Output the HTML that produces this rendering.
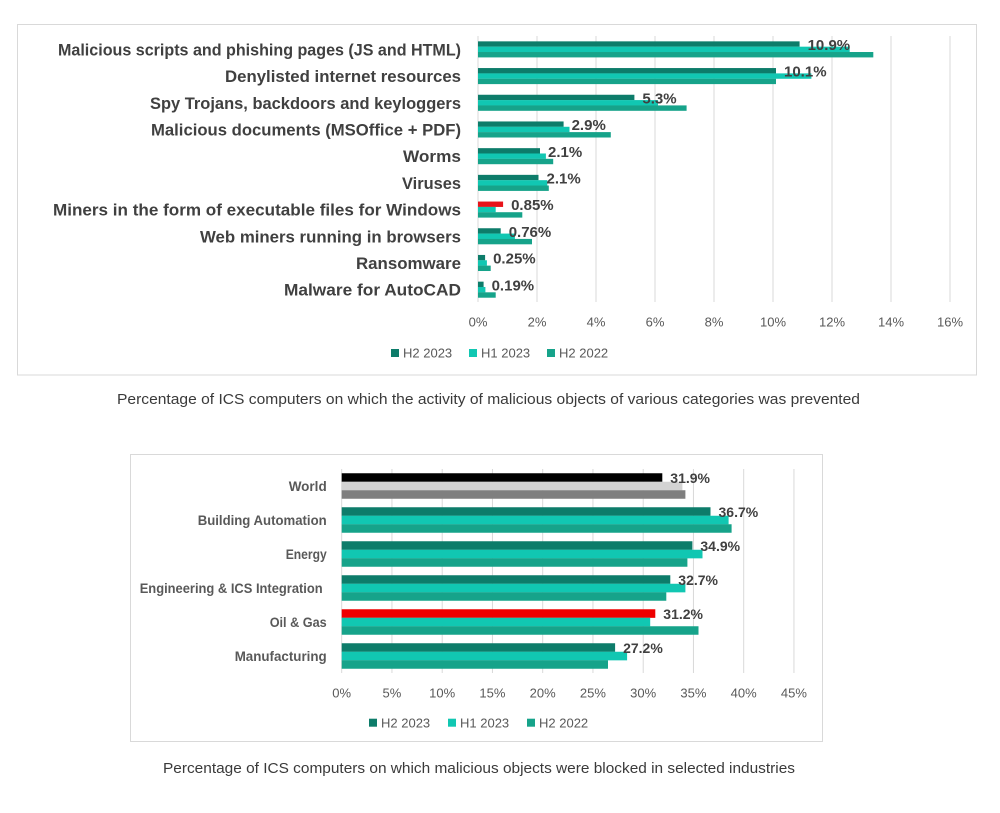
<!DOCTYPE html>
<html>
<head>
<meta charset="utf-8">
<style>
html,body{margin:0;padding:0;background:#fff;}
svg{display:block;}
text{font-family:"Liberation Sans",sans-serif;}
.lab{font-weight:bold;fill:#404040;font-size:16.5px;}
.blab{font-weight:bold;fill:#595959;font-size:14px;}
.tick{fill:#595959;font-size:13px;}
.dl{font-weight:bold;fill:#404040;font-size:15px;}
.bdl{font-weight:bold;fill:#404040;font-size:14px;}
.leg{fill:#595959;font-size:13px;}
.cap{fill:#3a3a3a;font-size:14.5px;}
</style>
</head>
<body>
<svg width="1000" height="813" viewBox="0 0 1000 813" xmlns="http://www.w3.org/2000/svg">
<rect width="1000" height="813" fill="#fff"/>

<!-- ===== TOP CHART ===== -->
<rect x="17.5" y="24.5" width="959" height="350.5" fill="#fff" stroke="#D9D9D9" stroke-width="1"/>
<g stroke="#D9D9D9" stroke-width="1">
<line x1="478" y1="36" x2="478" y2="302"/>
<line x1="537" y1="36" x2="537" y2="302"/>
<line x1="596" y1="36" x2="596" y2="302"/>
<line x1="655" y1="36" x2="655" y2="302"/>
<line x1="714" y1="36" x2="714" y2="302"/>
<line x1="773" y1="36" x2="773" y2="302"/>
<line x1="832" y1="36" x2="832" y2="302"/>
<line x1="891" y1="36" x2="891" y2="302"/>
<line x1="950" y1="36" x2="950" y2="302"/>
</g>

<!-- bars top -->
<g transform="translate(478,41.35)"><rect y="0" width="321.6" height="5.4" fill="#0D7C6A"/><rect y="5.33" width="371.7" height="5.4" fill="#11C7B2"/><rect y="10.66" width="395.3" height="5.4" fill="#16A38A"/></g>
<g transform="translate(478,68.05)"><rect y="0" width="298.0" height="5.4" fill="#0D7C6A"/><rect y="5.33" width="333.4" height="5.4" fill="#11C7B2"/><rect y="10.66" width="298.0" height="5.4" fill="#16A38A"/></g>
<g transform="translate(478,94.75)"><rect y="0" width="156.4" height="5.4" fill="#0D7C6A"/><rect y="5.33" width="180.0" height="5.4" fill="#11C7B2"/><rect y="10.66" width="208.6" height="5.4" fill="#16A38A"/></g>
<g transform="translate(478,121.45)"><rect y="0" width="85.6" height="5.4" fill="#0D7C6A"/><rect y="5.33" width="91.5" height="5.4" fill="#11C7B2"/><rect y="10.66" width="132.8" height="5.4" fill="#16A38A"/></g>
<g transform="translate(478,148.15)"><rect y="0" width="62.0" height="5.4" fill="#0D7C6A"/><rect y="5.33" width="67.9" height="5.4" fill="#11C7B2"/><rect y="10.66" width="75.2" height="5.4" fill="#16A38A"/></g>
<g transform="translate(478,174.85)"><rect y="0" width="60.5" height="5.4" fill="#0D7C6A"/><rect y="5.33" width="69.3" height="5.4" fill="#11C7B2"/><rect y="10.66" width="70.8" height="5.4" fill="#16A38A"/></g>
<g transform="translate(478,201.55)"><rect y="0" width="25.1" height="5.4" fill="#E8141B"/><rect y="5.33" width="17.7" height="5.4" fill="#11C7B2"/><rect y="10.66" width="44.3" height="5.4" fill="#16A38A"/></g>
<g transform="translate(478,228.25)"><rect y="0" width="22.7" height="5.4" fill="#0D7C6A"/><rect y="5.33" width="36.9" height="5.4" fill="#11C7B2"/><rect y="10.66" width="54.0" height="5.4" fill="#16A38A"/></g>
<g transform="translate(478,254.95)"><rect y="0" width="7.1" height="5.4" fill="#0D7C6A"/><rect y="5.33" width="8.9" height="5.4" fill="#11C7B2"/><rect y="10.66" width="12.7" height="5.4" fill="#16A38A"/></g>
<g transform="translate(478,281.65)"><rect y="0" width="5.6" height="5.4" fill="#0D7C6A"/><rect y="5.33" width="7.4" height="5.4" fill="#11C7B2"/><rect y="10.66" width="17.7" height="5.4" fill="#16A38A"/></g>

<!-- data labels top -->
<text class="dl" x="807.6" y="50">10.9%</text>
<text class="dl" x="784" y="76.7">10.1%</text>
<text class="dl" x="642.4" y="103.4">5.3%</text>
<text class="dl" x="571.6" y="130.1">2.9%</text>
<text class="dl" x="548" y="156.8">2.1%</text>
<text class="dl" x="546.5" y="183.5">2.1%</text>
<text class="dl" x="511.1" y="210.2">0.85%</text>
<text class="dl" x="508.7" y="236.9">0.76%</text>
<text class="dl" x="493.1" y="263.6">0.25%</text>
<text class="dl" x="491.6" y="290.3">0.19%</text>

<!-- category labels top -->
<g text-anchor="end">
<text class="lab" x="461" y="55.4" textLength="403" lengthAdjust="spacingAndGlyphs">Malicious scripts and phishing pages (JS and HTML)</text>
<text class="lab" x="461" y="82.1" textLength="236" lengthAdjust="spacingAndGlyphs">Denylisted internet resources</text>
<text class="lab" x="461" y="108.8" textLength="311" lengthAdjust="spacingAndGlyphs">Spy Trojans, backdoors and keyloggers</text>
<text class="lab" x="461" y="135.5" textLength="310" lengthAdjust="spacingAndGlyphs">Malicious documents (MSOffice + PDF)</text>
<text class="lab" x="461" y="162.2" textLength="58" lengthAdjust="spacingAndGlyphs">Worms</text>
<text class="lab" x="461" y="188.9" textLength="59" lengthAdjust="spacingAndGlyphs">Viruses</text>
<text class="lab" x="461" y="215.6" textLength="408" lengthAdjust="spacingAndGlyphs">Miners in the form of executable files for Windows</text>
<text class="lab" x="461" y="242.3" textLength="261" lengthAdjust="spacingAndGlyphs">Web miners running in browsers</text>
<text class="lab" x="461" y="269.0" textLength="105" lengthAdjust="spacingAndGlyphs">Ransomware</text>
<text class="lab" x="461" y="295.7" textLength="177" lengthAdjust="spacingAndGlyphs">Malware for AutoCAD</text>
</g>

<!-- ticks top -->
<g text-anchor="middle">
<text class="tick" x="478" y="326.3">0%</text>
<text class="tick" x="537" y="326.3">2%</text>
<text class="tick" x="596" y="326.3">4%</text>
<text class="tick" x="655" y="326.3">6%</text>
<text class="tick" x="714" y="326.3">8%</text>
<text class="tick" x="773" y="326.3">10%</text>
<text class="tick" x="832" y="326.3">12%</text>
<text class="tick" x="891" y="326.3">14%</text>
<text class="tick" x="950" y="326.3">16%</text>
</g>

<!-- legend top -->
<rect x="391" y="349" width="8" height="8" fill="#0D7C6A"/>
<text class="leg" x="403" y="357.7">H2 2023</text>
<rect x="469" y="349" width="8" height="8" fill="#11C7B2"/>
<text class="leg" x="481" y="357.7">H1 2023</text>
<rect x="547" y="349" width="8" height="8" fill="#16A38A"/>
<text class="leg" x="559" y="357.7">H2 2022</text>

<text class="cap" x="117" y="404" textLength="743" lengthAdjust="spacingAndGlyphs">Percentage of ICS computers on which the activity of malicious objects of various categories was prevented</text>

<!-- ===== BOTTOM CHART ===== -->
<rect x="130.5" y="454.5" width="692" height="287" fill="#fff" stroke="#D9D9D9" stroke-width="1"/>
<g stroke="#D9D9D9" stroke-width="1">
<line x1="341.7" y1="469" x2="341.7" y2="673"/>
<line x1="391.95" y1="469" x2="391.95" y2="673"/>
<line x1="442.2" y1="469" x2="442.2" y2="673"/>
<line x1="492.45" y1="469" x2="492.45" y2="673"/>
<line x1="542.7" y1="469" x2="542.7" y2="673"/>
<line x1="592.95" y1="469" x2="592.95" y2="673"/>
<line x1="643.2" y1="469" x2="643.2" y2="673"/>
<line x1="693.45" y1="469" x2="693.45" y2="673"/>
<line x1="743.7" y1="469" x2="743.7" y2="673"/>
<line x1="793.95" y1="469" x2="793.95" y2="673"/>
</g>

<g transform="translate(341.7,473.25)"><rect y="0" width="320.6" height="8.6" fill="#000"/><rect y="8.5" width="340.7" height="8.6" fill="#D3D3D3"/><rect y="17" width="343.7" height="8.5" fill="#7F7F7F"/></g>
<g transform="translate(341.7,507.25)"><rect y="0" width="368.8" height="8.6" fill="#0D7C6A"/><rect y="8.5" width="386.9" height="8.6" fill="#11C7B2"/><rect y="17" width="389.9" height="8.5" fill="#16A38A"/></g>
<g transform="translate(341.7,541.25)"><rect y="0" width="350.7" height="8.6" fill="#0D7C6A"/><rect y="8.5" width="360.8" height="8.6" fill="#11C7B2"/><rect y="17" width="345.7" height="8.5" fill="#16A38A"/></g>
<g transform="translate(341.7,575.25)"><rect y="0" width="328.6" height="8.6" fill="#0D7C6A"/><rect y="8.5" width="343.7" height="8.6" fill="#11C7B2"/><rect y="17" width="324.6" height="8.5" fill="#16A38A"/></g>
<g transform="translate(341.7,609.25)"><rect y="0" width="313.6" height="8.6" fill="#EE0000"/><rect y="8.5" width="308.5" height="8.6" fill="#11C7B2"/><rect y="17" width="356.8" height="8.5" fill="#16A38A"/></g>
<g transform="translate(341.7,643.25)"><rect y="0" width="273.4" height="8.6" fill="#0D7C6A"/><rect y="8.5" width="285.4" height="8.6" fill="#11C7B2"/><rect y="17" width="266.3" height="8.5" fill="#16A38A"/></g>

<text class="bdl" x="670.3" y="483">31.9%</text>
<text class="bdl" x="718.5" y="517">36.7%</text>
<text class="bdl" x="700.4" y="551">34.9%</text>
<text class="bdl" x="678.3" y="585">32.7%</text>
<text class="bdl" x="663.3" y="619">31.2%</text>
<text class="bdl" x="623.1" y="653">27.2%</text>

<g text-anchor="end">
<text class="blab" x="326.7" y="491" textLength="38" lengthAdjust="spacingAndGlyphs">World</text>
<text class="blab" x="326.7" y="525" textLength="129" lengthAdjust="spacingAndGlyphs">Building Automation</text>
<text class="blab" x="326.7" y="559" textLength="41" lengthAdjust="spacingAndGlyphs">Energy</text>
<text class="blab" x="322.7" y="593" textLength="183" lengthAdjust="spacingAndGlyphs">Engineering &amp; ICS Integration</text>
<text class="blab" x="326.7" y="627" textLength="57" lengthAdjust="spacingAndGlyphs">Oil &amp; Gas</text>
<text class="blab" x="326.7" y="661" textLength="92" lengthAdjust="spacingAndGlyphs">Manufacturing</text>
</g>

<g text-anchor="middle">
<text class="tick" x="341.7" y="697.3">0%</text>
<text class="tick" x="391.95" y="697.3">5%</text>
<text class="tick" x="442.2" y="697.3">10%</text>
<text class="tick" x="492.45" y="697.3">15%</text>
<text class="tick" x="542.7" y="697.3">20%</text>
<text class="tick" x="592.95" y="697.3">25%</text>
<text class="tick" x="643.2" y="697.3">30%</text>
<text class="tick" x="693.45" y="697.3">35%</text>
<text class="tick" x="743.7" y="697.3">40%</text>
<text class="tick" x="793.95" y="697.3">45%</text>
</g>

<rect x="369" y="718.7" width="8" height="8" fill="#0D7C6A"/>
<text class="leg" x="381" y="727.3">H2 2023</text>
<rect x="448" y="718.7" width="8" height="8" fill="#11C7B2"/>
<text class="leg" x="460" y="727.3">H1 2023</text>
<rect x="527" y="718.7" width="8" height="8" fill="#16A38A"/>
<text class="leg" x="539" y="727.3">H2 2022</text>

<text class="cap" x="163" y="773" textLength="632" lengthAdjust="spacingAndGlyphs">Percentage of ICS computers on which malicious objects were blocked in selected industries</text>
</svg>
</body>
</html>
